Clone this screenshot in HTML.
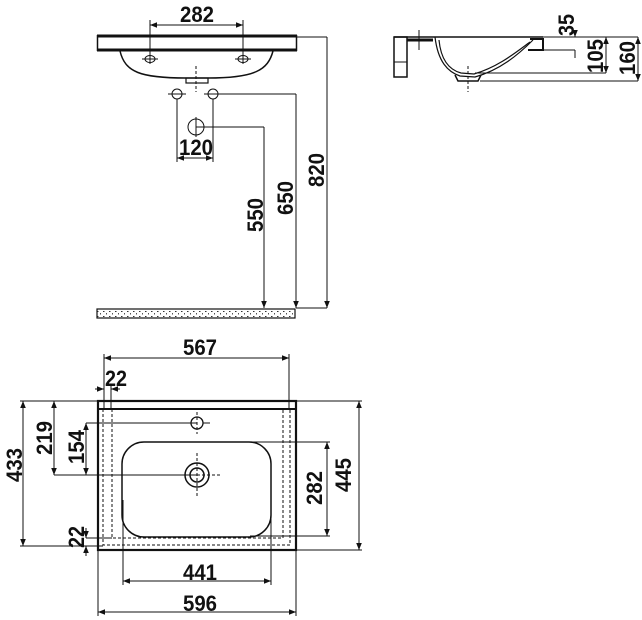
<!DOCTYPE html>
<html><head><meta charset="utf-8"><style>
html,body{margin:0;padding:0;background:#fff;}
svg{display:block;}
text{font-family:"Liberation Sans Narrow","Liberation Sans",sans-serif;font-weight:bold;font-size:22px;fill:#111;}
</style></head><body>
<svg width="642" height="620" viewBox="0 0 642 620" xmlns="http://www.w3.org/2000/svg">
<defs>
<marker id="a" viewBox="0 0 10 10" refX="10" refY="5" markerWidth="7" markerHeight="7" orient="auto-start-reverse" markerUnits="userSpaceOnUse"><path d="M0,1 L10,5 L0,9 z" fill="#111"/></marker>
<pattern id="h" width="6" height="5" patternUnits="userSpaceOnUse"><rect width="6" height="5" fill="#fff"/><rect x="1" y="1" width="1.5" height="1" fill="#333"/><rect x="4" y="3" width="1" height="1.5" fill="#555"/></pattern>
</defs>
<g stroke="#111" fill="none" stroke-width="1">
<!-- front view -->
<line x1="97" y1="36" x2="297" y2="36" stroke-width="3"/>
<line x1="97" y1="50" x2="297" y2="50" stroke-width="3"/>
<line x1="97.5" y1="35" x2="97.5" y2="51" stroke-width="1.5"/>
<line x1="296.5" y1="35" x2="296.5" y2="51" stroke-width="1.5"/>
<path d="M120,51 C125,72 140,78 186,78 L208,78 C255,78 268,70 273,51" stroke-width="1.5"/>
<rect x="186" y="78" width="22" height="5" stroke-width="1.2"/>
<line x1="196" y1="66" x2="196" y2="92" stroke-dasharray="3,2"/>
<ellipse cx="150" cy="59" rx="5" ry="3.5"/><line x1="142" y1="59" x2="158" y2="59"/>
<ellipse cx="243" cy="59" rx="5" ry="3.5"/><line x1="235" y1="59" x2="251" y2="59"/>
<circle cx="177" cy="94" r="5"/><line x1="168" y1="94" x2="186" y2="94"/>
<circle cx="213" cy="94" r="5"/><line x1="204" y1="94" x2="222" y2="94"/>
<circle cx="196" cy="127" r="8"/><line x1="196" y1="117" x2="196" y2="137"/>
<line x1="150" y1="20" x2="150" y2="64"/><line x1="243" y1="20" x2="243" y2="64"/>
<line x1="150" y1="25" x2="243" y2="25" marker-start="url(#a)" marker-end="url(#a)"/>
<line x1="177" y1="99" x2="177" y2="162"/><line x1="213" y1="99" x2="213" y2="162"/>
<line x1="177" y1="158" x2="213" y2="158" marker-start="url(#a)" marker-end="url(#a)"/>
<line x1="196" y1="127" x2="264" y2="127"/><line x1="264" y1="127" x2="264" y2="308" marker-end="url(#a)"/>
<line x1="213" y1="94" x2="296" y2="94"/><line x1="296" y1="94" x2="296" y2="308" marker-end="url(#a)"/>
<line x1="297" y1="37" x2="327" y2="37"/><line x1="327" y1="37" x2="327" y2="308" marker-end="url(#a)"/>
<line x1="296" y1="308" x2="327" y2="308"/>
<rect x="97" y="309" width="198" height="9" fill="url(#h)" stroke-width="1.2"/>

<!-- side view -->
<path d="M394,37 L543,37" stroke-width="1.5"/>
<rect x="394" y="37" width="13" height="40" stroke-width="1.5"/>
<line x1="394" y1="62" x2="407" y2="62"/>
<path d="M407,40 L433,40" stroke-width="3"/>
<path d="M435,37 C438,62 448,72 460,76 L475,77 C500,70 518,55 533,40" stroke-width="1.2"/>
<path d="M439,40 C441,61 450,70 461,73 L474,74 C498,67 515,53 530,42" stroke-width="1.2"/>
<path d="M455,75 L458,81 L478,81 L481,75" stroke-width="1.5"/>
<path d="M530,39 L543,39 L543,50 L528,50" stroke-width="2"/>
<line x1="419" y1="30" x2="419" y2="50"/>
<line x1="468" y1="66" x2="468" y2="92" stroke-dasharray="3,2"/>
<line x1="543" y1="37" x2="638" y2="37"/>
<line x1="543" y1="50" x2="575" y2="50"/><line x1="575" y1="50" x2="575" y2="58"/>
<line x1="575" y1="31" x2="575" y2="37" marker-end="url(#a)"/>
<line x1="475" y1="73" x2="606" y2="73"/><line x1="480" y1="81" x2="638" y2="81"/>
<line x1="606" y1="37" x2="606" y2="73" marker-start="url(#a)" marker-end="url(#a)"/>
<line x1="638" y1="37" x2="638" y2="81" marker-start="url(#a)" marker-end="url(#a)"/>

<!-- plan view -->
<rect x="98" y="401" width="198" height="149" stroke-width="2.2"/>
<line x1="98" y1="409" x2="296" y2="409" stroke-width="2"/>
<path d="M103,409 V545 H290 V409" stroke-dasharray="3,2"/>
<path d="M112,409 V538 H283 V409" stroke-dasharray="3,2"/>
<rect x="122" y="442" width="149" height="95" rx="22" stroke-width="1.5"/>
<circle cx="197" cy="475" r="12" stroke-width="1.5"/><circle cx="197" cy="475" r="7" stroke-width="1.5"/>
<line x1="197" y1="453" x2="197" y2="497" stroke-dasharray="3,2"/><line x1="197" y1="475" x2="220" y2="475" stroke-dasharray="3,2"/>
<circle cx="197" cy="423" r="6" stroke-width="1.3"/>
<line x1="197" y1="412" x2="197" y2="434" stroke-dasharray="3,2"/><line x1="203" y1="423" x2="210" y2="423"/>
<line x1="104" y1="354" x2="104" y2="409"/><line x1="289" y1="354" x2="289" y2="409"/>
<line x1="104" y1="358" x2="289" y2="358" marker-start="url(#a)" marker-end="url(#a)"/>
<line x1="111" y1="384" x2="111" y2="409"/>
<line x1="95" y1="389" x2="104" y2="389" marker-end="url(#a)"/><line x1="120" y1="389" x2="111" y2="389" marker-end="url(#a)"/>
<line x1="20" y1="401" x2="98" y2="401"/><line x1="20" y1="546" x2="103" y2="546"/>
<line x1="23" y1="401" x2="23" y2="546" marker-start="url(#a)" marker-end="url(#a)"/>
<line x1="54" y1="475" x2="197" y2="475"/>
<line x1="54" y1="401" x2="54" y2="475" marker-start="url(#a)" marker-end="url(#a)"/>
<line x1="86" y1="423" x2="197" y2="423"/>
<line x1="86" y1="423" x2="86" y2="475" marker-start="url(#a)" marker-end="url(#a)"/>
<line x1="86" y1="538" x2="112" y2="538"/>
<line x1="86" y1="528" x2="86" y2="538" marker-end="url(#a)"/><line x1="86" y1="556" x2="86" y2="546" marker-end="url(#a)"/>
<line x1="296" y1="401" x2="362" y2="401"/><line x1="296" y1="550" x2="362" y2="550"/>
<line x1="359" y1="401" x2="359" y2="550" marker-start="url(#a)" marker-end="url(#a)"/>
<line x1="250" y1="442" x2="330" y2="442"/><line x1="250" y1="536" x2="330" y2="536"/>
<line x1="327" y1="442" x2="327" y2="536" marker-start="url(#a)" marker-end="url(#a)"/>
<line x1="123" y1="500" x2="123" y2="585"/><line x1="271" y1="500" x2="271" y2="585"/>
<line x1="123" y1="581" x2="271" y2="581" marker-start="url(#a)" marker-end="url(#a)"/>
<line x1="98" y1="550" x2="98" y2="616"/><line x1="296" y1="550" x2="296" y2="616"/>
<line x1="98" y1="612" x2="296" y2="612" marker-start="url(#a)" marker-end="url(#a)"/>
</g>
<g text-anchor="middle">
<text x="197" y="22" textLength="34" lengthAdjust="spacingAndGlyphs">282</text>
<text x="196" y="155" textLength="34" lengthAdjust="spacingAndGlyphs">120</text>
<text transform="translate(263,215) rotate(-90)" textLength="34" lengthAdjust="spacingAndGlyphs">550</text>
<text transform="translate(293,198) rotate(-90)" textLength="34" lengthAdjust="spacingAndGlyphs">650</text>
<text transform="translate(324,170) rotate(-90)" textLength="34" lengthAdjust="spacingAndGlyphs">820</text>
<text transform="translate(574,25) rotate(-90)" textLength="22" lengthAdjust="spacingAndGlyphs">35</text>
<text transform="translate(603,56) rotate(-90)" textLength="34" lengthAdjust="spacingAndGlyphs">105</text>
<text transform="translate(635,58) rotate(-90)" textLength="34" lengthAdjust="spacingAndGlyphs">160</text>
<text x="200" y="355" textLength="34" lengthAdjust="spacingAndGlyphs">567</text>
<text x="116" y="386" textLength="22" lengthAdjust="spacingAndGlyphs">22</text>
<text transform="translate(22,465) rotate(-90)" textLength="34" lengthAdjust="spacingAndGlyphs">433</text>
<text transform="translate(52,438) rotate(-90)" textLength="34" lengthAdjust="spacingAndGlyphs">219</text>
<text transform="translate(84,447) rotate(-90)" textLength="34" lengthAdjust="spacingAndGlyphs">154</text>
<text transform="translate(84,537) rotate(-90)" textLength="22" lengthAdjust="spacingAndGlyphs">22</text>
<text transform="translate(351,475) rotate(-90)" textLength="34" lengthAdjust="spacingAndGlyphs">445</text>
<text transform="translate(322,488) rotate(-90)" textLength="34" lengthAdjust="spacingAndGlyphs">282</text>
<text x="200" y="580" textLength="34" lengthAdjust="spacingAndGlyphs">441</text>
<text x="200" y="611" textLength="34" lengthAdjust="spacingAndGlyphs">596</text>
</g>
</svg>
</body></html>
